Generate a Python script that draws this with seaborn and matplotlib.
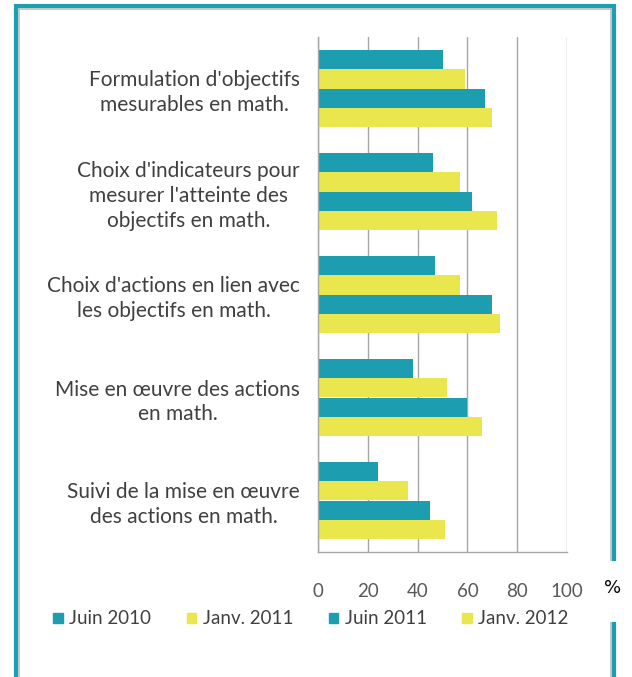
import pandas as pd
import matplotlib.pyplot as plt
import seaborn as sns
from matplotlib.lines import Line2D

# data (%)
categories = [
    "Formulation d'objectifs\nmesurables en math.",
    "Choix d'indicateurs pour\nmesurer l'atteinte des\nobjectifs en math.",
    "Choix d'actions en lien avec\nles objectifs en math.",
    "Mise en œuvre des actions\nen math.",
    "Suivi de la mise en œuvre\ndes actions en math.",
]
periods = ["Juin 2010", "Janv. 2011", "Juin 2011", "Janv. 2012"]
juin_2010 = [50, 46, 47, 38, 24]
janv_2011 = [59, 57, 57, 52, 36]
juin_2011 = [67, 62, 70, 60, 45]
janv_2012 = [70, 72, 73, 66, 51]
ticks = [0, 20, 40, 60, 80, 100]

series = [juin_2010, janv_2011, juin_2011, janv_2012]
rows = []
for p, vals in zip(periods, series):
    for c, v in zip(categories, vals):
        rows.append({"cat": c, "period": p, "val": v})
df = pd.DataFrame(rows)

teal = "#1C9DB0"
yellow = "#E9E64E"
palette = [teal, yellow, teal, yellow]

sns.set_style("white")
plt.rcParams['font.family'] = ['Lato', 'DejaVu Sans']

fig = plt.figure(figsize=(6.32, 6.77), dpi=100)
ax = fig.add_axes([318 / 632, 1 - 552 / 677, 249 / 632, 515 / 677])

sns.barplot(data=df, y="cat", x="val", hue="period", hue_order=periods,
            order=categories, palette=palette, orient="h", width=0.74,
            linewidth=0, saturation=1, ax=ax)

ax.set_xlim(0, 100)
ax.set_xticks(ticks)
ax.set_xlabel("")
ax.set_ylabel("")
ax.grid(axis="x", color="#A6A6A6", linewidth=1)
ax.set_axisbelow(True)
for s in ["top", "right"]:
    ax.spines[s].set_visible(False)
for s in ["left", "bottom"]:
    ax.spines[s].set_color("#A6A6A6")
    ax.spines[s].set_linewidth(1)

ax.tick_params(axis="x", direction="out", length=7, width=1, color="#A6A6A6",
               pad=15, labelsize=13.5, labelcolor="#595959")
ax.tick_params(axis="y", length=0, pad=13, labelsize=15, labelcolor="#404040")
ax.set_yticks(range(len(categories)), categories)
for lab in ax.get_yticklabels():
    lab.set_multialignment("center")
    lab.set_linespacing(1.3)
ax.set_yticks([i - 0.5 for i in range(len(categories) + 1)], minor=True)
ax.tick_params(axis="y", which="minor", length=4, width=1, color="#A6A6A6")
ax.set_ylim(len(categories) - 0.5, -0.5)

# legend
ax.get_legend().remove()
handles = [plt.Rectangle((0, 0), 1, 1, color=c) for c in palette]
fig.legend(handles, periods, loc="center", bbox_to_anchor=(0.492, 1 - 619 / 677),
           ncol=4, frameon=False, fontsize=13.5, handlelength=0.5, handleheight=0.5,
           handletextpad=0.35, columnspacing=1.9, labelcolor="#404040")

# teal frame around the figure, open on the right where the % sits
fw, fh = 632, 677
border = "#1AA0B2"
inner = "#BEBEBE"
kw = dict(color=border, lw=3, solid_capstyle="butt")
fig.add_artist(Line2D([15.5 / fw, 15.5 / fw], [0, 1 - 4 / fh], **kw))
fig.add_artist(Line2D([13.5 / fw, 616 / fw], [1 - 6 / fh, 1 - 6 / fh], **kw))
fig.add_artist(Line2D([614 / fw, 614 / fw], [1 - 4 / fh, 1 - 561 / fh], **kw))
fig.add_artist(Line2D([614 / fw, 614 / fw], [1 - 622 / fh, 0], **kw))
ikw = dict(color=inner, lw=1.2, solid_capstyle="butt")
fig.add_artist(Line2D([18.5 / fw, 18.5 / fw], [0, 1 - 8 / fh], **ikw))
fig.add_artist(Line2D([18 / fw, 611.5 / fw], [1 - 9 / fh, 1 - 9 / fh], **ikw))
fig.add_artist(Line2D([611 / fw, 611 / fw], [1 - 8 / fh, 1 - 561 / fh], **ikw))
fig.add_artist(Line2D([611 / fw, 611 / fw], [1 - 622 / fh, 0], **ikw))

fig.text(613 / fw, 1 - 588 / fh, "%", ha="center", va="center", fontsize=13,
         color="black", family=["DejaVu Sans"])

fig.savefig("out.png", dpi=100, facecolor="white")
